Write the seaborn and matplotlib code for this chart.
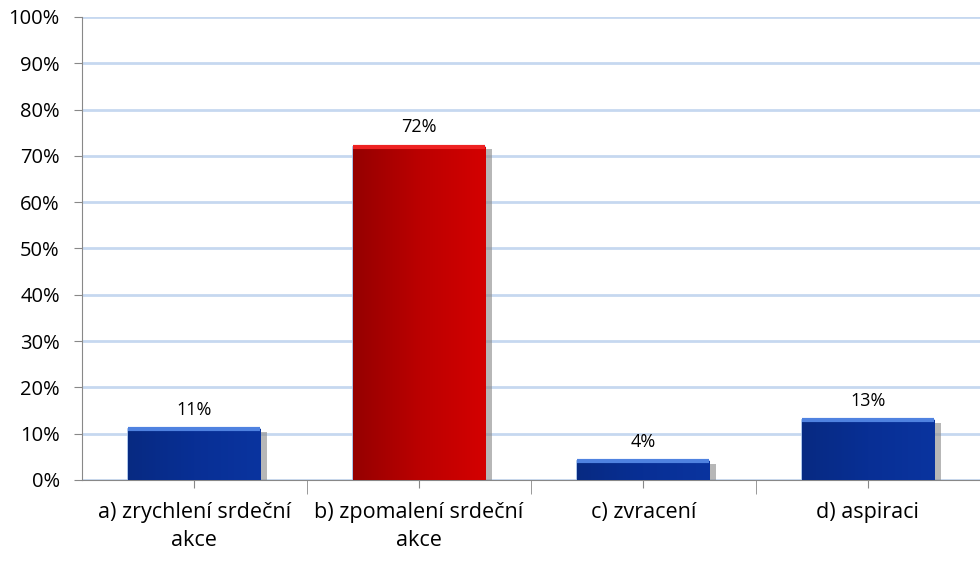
import numpy as np
import pandas as pd
import matplotlib
matplotlib.use("Agg")
import matplotlib.pyplot as plt
import matplotlib.patheffects as pe
from matplotlib.colors import LinearSegmentedColormap
import seaborn as sns

# data
categories = ["a) zrychlení srdeční\nakce", "b) zpomalení srdeční\nakce", "c) zvracení", "d) aspiraci"]
values = [0.11, 0.72, 0.04, 0.13]
labels = ["11%", "72%", "4%", "13%"]
groups = ["blue", "red", "blue", "blue"]

df = pd.DataFrame({"cat": categories, "val": values, "grp": groups})

sns.set_style("white")
plt.rcParams['font.family'] = ['Open Sans', 'DejaVu Sans']
plt.rcParams['text.color'] = '#000000'
plt.rcParams['xtick.labelcolor'] = '#000000'
plt.rcParams['ytick.labelcolor'] = '#000000'

fig = plt.figure(figsize=(9.8, 5.76), dpi=100)
ax = fig.add_axes([0.0837, 0.1667, 0.9163, 0.8038])

pal = {"blue": "#0a2f98", "red": "#c00000"}
sns.barplot(data=df, x="cat", y="val", hue="grp", palette=pal, dodge=False,
            width=0.59, legend=False, ax=ax, edgecolor="#9dbbe6", linewidth=1.2, zorder=3)

# gradient fills + shadow
cmaps = {"blue": LinearSegmentedColormap.from_list("b", ["#072a82", "#082f95", "#0a349f"]),
         "red": LinearSegmentedColormap.from_list("r", ["#950000", "#bb0000", "#d40000"])}
grad = np.linspace(0, 1, 256).reshape(1, -1)
for p in ax.patches:
    h = p.get_height()
    if h <= 0:
        continue
    x0 = p.get_x()
    w = p.get_width()
    color = p.get_facecolor()
    grp = "red" if color[0] > 0.5 else "blue"
    p.set_path_effects([pe.SimplePatchShadow(offset=(5, -2), shadow_rgbFace="#888888", alpha=0.6), pe.Normal()])
    im = ax.imshow(grad, cmap=cmaps[grp], aspect="auto", extent=[x0, x0 + w, 0, h], zorder=3.5)
    im.set_clip_path(p)
    # light top edge
    ax.plot([x0, x0 + w], [h, h], color="#4f82e0" if grp == "blue" else "#ee2222",
            lw=3, zorder=4, solid_capstyle="butt")

for i, (v, t) in enumerate(zip(values, labels)):
    ax.text(i, v + 0.022, t, ha="center", va="bottom", fontsize=13, color="#000000", zorder=5)

ax.set_xlim(-0.5, 3.5)
ax.set_ylim(0, 1.0)
ax.set_yticks(np.arange(0, 1.01, 0.1))
ax.set_yticklabels([f"{int(round(t * 100))}%" for t in np.arange(0, 1.01, 0.1)], fontsize=14.5)
ax.yaxis.grid(True, color="#c6d8f0", lw=2, zorder=0)
ax.set_axisbelow(True)
ax.set_xlabel("")
ax.set_ylabel("")
ax.tick_params(axis="x", labelsize=15.5, length=6, color="#888888", pad=10)
ax.tick_params(axis="y", length=6, color="#888888", left=True, pad=10)
ax.set_xticks([0.5, 1.5, 2.5], minor=True)
ax.tick_params(axis="x", which="minor", length=10, color="#888888", bottom=True)
ax.tick_params(axis="x", which="major", bottom=True)
for s in ["top", "right"]:
    ax.spines[s].set_visible(False)
ax.spines["left"].set_color("#888888")
ax.spines["bottom"].set_color("#888888")
for t in ax.get_xticklabels():
    t.set_linespacing(1.45)

fig.savefig("out.png", dpi=100)
